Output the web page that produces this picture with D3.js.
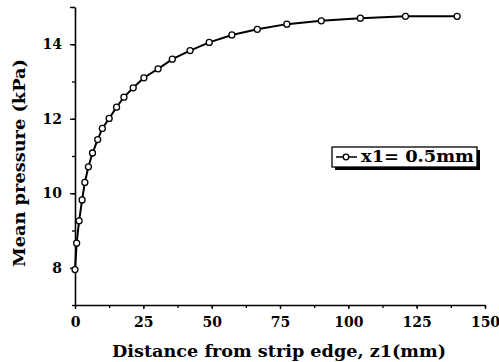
<!DOCTYPE html>
<html>
<head>
<meta charset="utf-8">
<script src="https://cdn.jsdelivr.net/npm/d3@7"></script>
<style>
  body { margin: 0; background: #fff; }
  text { font-family: "DejaVu Serif", serif; font-weight: bold; fill: #000; }
</style>
</head>
<body>
<div id="chart"></div>
<script>
// data
var distance = [0, 0.6, 1.5, 2.6, 3.6, 4.9, 6.4, 8.3, 10.0, 12.5, 15.2, 17.9, 21.3, 25.2,
                30.4, 35.6, 42.1, 49.1, 57.4, 66.7, 77.5, 90.1, 104.4, 120.9, 139.8];
var pressure = [7.95, 8.66, 9.26, 9.82, 10.29, 10.71, 11.08, 11.44, 11.74, 12.01, 12.31, 12.58, 12.83, 13.10,
                13.34, 13.60, 13.83, 14.05, 14.25, 14.40, 14.54, 14.63, 14.70, 14.75, 14.75];
var xTicks = [0, 25, 50, 75, 100, 125, 150];
var yTicks = [8, 10, 12, 14];
var seriesName = "x1= 0.5mm";

const W = 499, H = 362;
const plotLeft = 75, plotRight = 485, plotTop = 7, plotBottom = 305;

var svg = d3.select("#chart").append("svg")
  .attr("width", W)
  .attr("height", H);

var x = d3.scaleLinear().domain([0, 150]).range([plotLeft, plotRight]);
var y = d3.scaleLinear().domain([7, 15]).range([plotBottom, plotTop]);

// x axis, minor ticks every 12.5
var xMinor = d3.range(0, 151, 12.5);
svg.append("g")
  .attr("transform", "translate(0," + plotBottom + ")")
  .call(d3.axisBottom(x).tickValues(xMinor).tickSize(3).tickFormat(""))
  .call(g => g.select(".domain").remove())
  .selectAll("line").attr("stroke", "#000").attr("stroke-width", 1.3);

var xAxis = svg.append("g")
  .attr("transform", "translate(0," + plotBottom + ")")
  .call(d3.axisBottom(x).tickValues(xTicks).tickSize(4).tickSizeOuter(0).tickPadding(8));
xAxis.select(".domain").attr("stroke", "#000").attr("stroke-width", 1.6);
xAxis.selectAll("line").attr("stroke", "#000").attr("stroke-width", 1.3);
xAxis.selectAll("text")
  .style("font-family", "DejaVu Serif").style("font-weight", "bold")
  .style("font-size", "14px").attr("fill", "#000");

// y axis, minor ticks on the odd values
var yMinor = d3.range(7, 16, 1);
svg.append("g")
  .attr("transform", "translate(" + plotLeft + ",0)")
  .call(d3.axisLeft(y).tickValues(yMinor).tickSize(3).tickFormat(""))
  .call(g => g.select(".domain").remove())
  .selectAll("line").attr("stroke", "#000").attr("stroke-width", 1.3);

var yAxis = svg.append("g")
  .attr("transform", "translate(" + plotLeft + ",0)")
  .call(d3.axisLeft(y).tickValues(yTicks.concat([15])).tickSize(5).tickSizeOuter(0).tickPadding(8)
        .tickFormat(d => yTicks.indexOf(d) >= 0 ? d : ""));
yAxis.select(".domain").attr("stroke", "#000").attr("stroke-width", 1.6);
yAxis.selectAll("line").attr("stroke", "#000").attr("stroke-width", 1.3);
yAxis.selectAll("text")
  .style("font-family", "DejaVu Serif").style("font-weight", "bold")
  .style("font-size", "14px").attr("fill", "#000");

// axis titles
svg.append("text")
  .attr("x", 279)
  .attr("y", 357)
  .attr("text-anchor", "middle")
  .attr("textLength", 334)
  .attr("lengthAdjust", "spacingAndGlyphs")
  .style("font-size", "17px")
  .text("Distance from strip edge, z1(mm)");

svg.append("text")
  .attr("transform", "translate(25,163) rotate(-90)")
  .attr("text-anchor", "middle")
  .attr("textLength", 208)
  .attr("lengthAdjust", "spacingAndGlyphs")
  .style("font-size", "17px")
  .text("Mean pressure (kPa)");

// the curve
var pts = distance.map((d, i) => [d, pressure[i]]);
var line = d3.line().x(d => x(d[0])).y(d => y(d[1]));

svg.append("path")
  .datum(pts)
  .attr("d", line)
  .attr("fill", "none")
  .attr("stroke", "#000")
  .attr("stroke-width", 2);

svg.selectAll("circle.pt")
  .data(pts)
  .enter().append("circle")
  .attr("class", "pt")
  .attr("cx", d => x(d[0]))
  .attr("cy", d => y(d[1]))
  .attr("r", 3)
  .attr("fill", "#fff")
  .attr("stroke", "#000")
  .attr("stroke-width", 1.3);

// legend with shadow
var lg = svg.append("g").attr("transform", "translate(332,147)");
lg.append("rect").attr("x", 3).attr("y", 3).attr("width", 145).attr("height", 20).attr("fill", "#000");
lg.append("rect").attr("x", 0).attr("y", 0).attr("width", 145).attr("height", 20)
  .attr("fill", "#fff").attr("stroke", "#000").attr("stroke-width", 1.3);
lg.append("line").attr("x1", 4).attr("x2", 25).attr("y1", 10).attr("y2", 10)
  .attr("stroke", "#000").attr("stroke-width", 1.5);
lg.append("circle").attr("cx", 14).attr("cy", 10).attr("r", 2.8)
  .attr("fill", "#fff").attr("stroke", "#000").attr("stroke-width", 1.3);
lg.append("text").attr("x", 29).attr("y", 15)
  .attr("textLength", 113)
  .attr("lengthAdjust", "spacingAndGlyphs")
  .style("font-size", "16px")
  .text(seriesName);
</script>
</body>
</html>
